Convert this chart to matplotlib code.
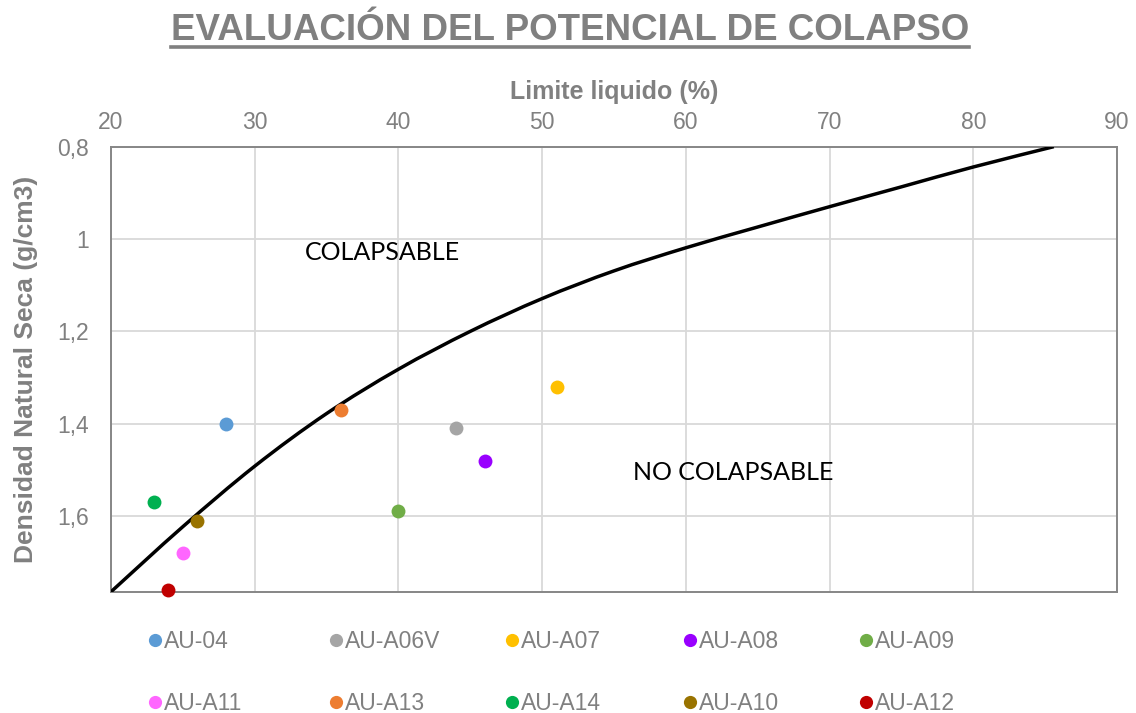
import matplotlib.pyplot as plt
from matplotlib.lines import Line2D
from matplotlib.path import Path
from matplotlib.patches import PathPatch
from matplotlib.ticker import FuncFormatter, MultipleLocator
import numpy as np

# Muestras: limite liquido (%) y densidad natural seca (g/cm3)
muestras = ["AU-04", "AU-A06V", "AU-A07", "AU-A08", "AU-A09",
            "AU-A11", "AU-A13", "AU-A14", "AU-A10", "AU-A12"]
limite_liquido = [28, 44, 51, 46, 40, 25, 36, 23, 26, 24]
densidad_seca = [1.40, 1.41, 1.32, 1.48, 1.59, 1.68, 1.37, 1.57, 1.61, 1.76]
colores = ["#5B9BD5", "#A5A5A5", "#FFC000", "#9900FF", "#70AD47",
           "#FF66FF", "#ED7D31", "#00B050", "#997300", "#C00000"]

# Curva limite colapsable / no colapsable
curva_ll = [20, 25, 30, 35, 40, 45, 50, 55, 60, 65, 70, 75, 80, 85.6]
curva_dens = [1.764, 1.623, 1.492, 1.378, 1.282, 1.200, 1.129, 1.069,
              1.019, 0.974, 0.930, 0.887, 0.844, 0.800]

GRIS = "#808080"
FUENTE = "Liberation Sans"


def curva_suave(x, y):
    # spline tipo Catmull-Rom convertida a segmentos bezier cubicos
    pts = np.column_stack([x, y]).astype(float)
    ext = np.vstack([pts[0], pts, pts[-1]])
    verts = [pts[0]]
    codes = [Path.MOVETO]
    for i in range(1, len(ext) - 2):
        p0, p1, p2, p3 = ext[i - 1], ext[i], ext[i + 1], ext[i + 2]
        c1 = p1 + (p2 - p0) / 6
        c2 = p2 - (p3 - p1) / 6
        verts += [c1, c2, p2]
        codes += [Path.CURVE4] * 3
    return Path(verts, codes)


plt.rcParams["font.family"] = [FUENTE, "DejaVu Sans"]

fig = plt.figure(figsize=(11.36, 7.13), dpi=100)
ax = fig.add_axes([0.0977, 0.170, 0.8856, 0.6243])

ax.add_patch(PathPatch(curva_suave(curva_ll, curva_dens), facecolor="none",
                       edgecolor="black", lw=2.5, zorder=3))

for x, y, c in zip(limite_liquido, densidad_seca, colores):
    ax.plot(x, y, "o", color=c, markersize=10, markeredgewidth=0,
            zorder=4, clip_on=False)

ax.set_xlim(20, 90)
ax.set_ylim(1.764, 0.8)
ax.xaxis.set_major_locator(MultipleLocator(10))
ax.yaxis.set_major_locator(MultipleLocator(0.2))
ax.yaxis.set_major_formatter(FuncFormatter(lambda v, p: f"{v:g}".replace(".", ",")))
ax.xaxis.tick_top()
ax.xaxis.set_label_position("top")
ax.tick_params(axis="both", length=0, labelsize=16.5, colors=GRIS)
ax.tick_params(axis="x", pad=9)
ax.tick_params(axis="y", pad=16)
ax.grid(True, color="#D9D9D9", lw=1.3)
ax.set_axisbelow(True)
for s in ax.spines.values():
    s.set_color("#868686")
    s.set_linewidth(1.4)

ax.set_xlabel("Limite liquido (%)", fontsize=18, fontweight="bold",
              color=GRIS, labelpad=9)
ax.set_ylabel("Densidad Natural Seca (g/cm3)", fontsize=19,
              fontweight="bold", color=GRIS, labelpad=14)

ax.text(38.9, 1.03, "COLAPSABLE", fontsize=18, family="Lato",
        ha="center", va="center", color="black")
ax.text(63.3, 1.505, "NO COLAPSABLE", fontsize=18, family="Lato",
        ha="center", va="center", color="black")

titulo = fig.text(0.502, 0.957, "EVALUACIÓN DEL POTENCIAL DE COLAPSO",
                  fontsize=26.5, fontweight="bold", color=GRIS,
                  ha="center", va="center")

# subrayado del titulo, con el mismo ancho que el texto
fig.canvas.draw()
bb = titulo.get_window_extent().transformed(fig.transFigure.inverted())
fig.add_artist(Line2D([bb.x0, bb.x1], [1 - 47 / 713, 1 - 47 / 713],
                      color=GRIS, lw=2.6))

# leyenda en dos filas, una leyenda por columna
xs_col = [0.131, 0.290, 0.445, 0.602, 0.757]
for k in range(5):
    handles = []
    for j in (k, k + 5):
        handles.append(Line2D([], [], marker="o", ls="none", color=colores[j],
                              markersize=9.5, markeredgewidth=0,
                              label=muestras[j]))
    leg = fig.legend(handles=handles, loc="upper left",
                     bbox_to_anchor=(xs_col[k], 0.116), frameon=False,
                     fontsize=16.5, handlelength=0.55, handletextpad=0.12,
                     labelspacing=1.68, borderpad=0, borderaxespad=0)
    for t in leg.get_texts():
        t.set_color(GRIS)

fig.savefig("out.png", dpi=100)
